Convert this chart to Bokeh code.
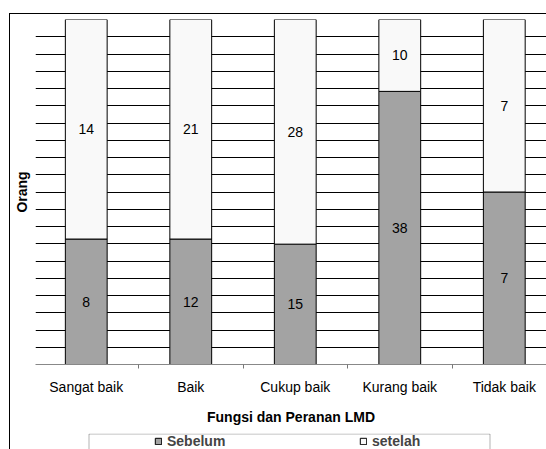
from bokeh.plotting import figure
from bokeh.layouts import column
from bokeh.models import (ColumnDataSource, FixedTicker, Range1d, Legend, LegendItem,
                          LabelSet, BoxAnnotation)
from bokeh.core.properties import value
from bokeh.embed import file_html
from bokeh.resources import INLINE

# Survey results: perception of LMD's function and role, before and after
categories = ["Sangat baik", "Baik", "Cukup baik", "Kurang baik", "Tidak baik"]
sebelum = [8, 12, 15, 38, 7]
setelah = [14, 21, 28, 10, 7]
series_names = ["Sebelum", "setelah"]

FONT = "Liberation Sans"
GRAY = "#A3A3A3"
WHITE = "#F9F9F9"

xs = [i + 0.5 for i in range(len(categories))]
totals = [a + b for a, b in zip(sebelum, setelah)]
frac_seb = [a / t for a, t in zip(sebelum, totals)]

src = ColumnDataSource(dict(
    x=xs,
    cat=categories,
    seb_top=frac_seb,
    set_top=[1.0] * len(xs),
    seb_mid=[f / 2 for f in frac_seb],
    set_mid=[(f + 1) / 2 for f in frac_seb],
    seb_lbl=[str(v) for v in sebelum],
    set_lbl=[str(v) for v in setelah],
))

# ---- main chart: 100% stacked columns ----
p = figure(width=536, height=419, output_backend="svg", toolbar_location=None,
           x_range=Range1d(0.0144, 4.904), y_range=Range1d(0, 1),
           min_border_left=25, min_border_right=0, min_border_top=5,
           min_border_bottom=69)
p.outline_line_color = None
p.background_fill_color = "white"
p.border_fill_color = "white"

bar_style = dict(width=0.40, line_color="black", line_width=1)
r_seb = p.vbar(x="x", bottom=0, top="seb_top", source=src, fill_color=GRAY, **bar_style)
r_set = p.vbar(x="x", bottom="seb_top", top="set_top", source=src, fill_color=WHITE,
               **bar_style)

for col, ycol in (("seb_lbl", "seb_mid"), ("set_lbl", "set_mid")):
    p.add_layout(LabelSet(x="x", y=ycol, text=col, source=src,
                          text_align="center", text_baseline="middle",
                          text_font=value(FONT), text_font_size=value("14px"),
                          text_color="black"))

# y axis: title only; the 5% grid has its own ticker
p.yaxis.ticker = FixedTicker(ticks=[])
p.ygrid.ticker = FixedTicker(ticks=[round(0.05 * i, 2) for i in range(1, 20)])
p.yaxis.axis_line_color = None
p.yaxis.major_tick_line_color = None
p.yaxis.minor_tick_line_color = None
p.yaxis.axis_label = "Orang"
p.yaxis.axis_label_text_font = FONT
p.yaxis.axis_label_text_font_size = "14px"
p.yaxis.axis_label_text_font_style = "bold"
p.yaxis.axis_label_text_color = "black"
p.yaxis.axis_label_standoff = 6
p.ygrid.grid_line_color = "black"
p.ygrid.grid_line_width = 1
p.xgrid.grid_line_color = None

# x axis: labels at category centres, ticks at category boundaries
p.xaxis.ticker = FixedTicker(ticks=xs, minor_ticks=list(range(len(categories) + 1)))
p.xaxis.major_label_overrides = {x: c for x, c in zip(xs, categories)}
p.xaxis.major_tick_in = 0
p.xaxis.major_tick_out = 0
p.xaxis.minor_tick_in = 0
p.xaxis.minor_tick_out = 4
p.xaxis.minor_tick_line_color = "#777777"
p.xaxis.axis_line_color = "#888888"
p.xaxis.major_label_text_font = FONT
p.xaxis.major_label_text_font_size = "14px"
p.xaxis.major_label_text_color = "black"
p.xaxis.major_label_standoff = 10
p.xaxis.axis_label = "Fungsi dan Peranan LMD"
p.xaxis.axis_label_text_font = FONT
p.xaxis.axis_label_text_font_size = "14px"
p.xaxis.axis_label_text_font_style = "bold"
p.xaxis.axis_label_text_color = "black"
p.xaxis.axis_label_standoff = 11

# ---- legend strip below the chart (frame aligned with the chart frame) ----
lg = figure(width=536, height=16, output_backend="svg", toolbar_location=None,
            x_range=Range1d(0, 511), y_range=Range1d(10, 26),
            x_axis_location=None, y_axis_location=None,
            min_border_left=25, min_border_right=0, min_border_top=0,
            min_border_bottom=0)
lg.outline_line_color = None
lg.grid.grid_line_color = None
lg.background_fill_color = "white"
lg.border_fill_color = "white"

# legend swatches: same series, drawn below this strip's visible y window
k_seb = lg.vbar(x="x", bottom=0, top="seb_top", source=src, fill_color=GRAY, **bar_style)
k_set = lg.vbar(x="x", bottom="seb_top", top="set_top", source=src, fill_color=WHITE,
                **bar_style)

lg.add_layout(BoxAnnotation(left=53.5, right=454.5, top=25.5, bottom=0,
                            fill_color=None, line_color="black", line_width=1))

legend = Legend(items=[LegendItem(label=series_names[0], renderers=[k_seb]),
                       LegendItem(label=series_names[1], renderers=[k_set])],
                orientation="horizontal", location=(119, 0),
                padding=0, margin=0, spacing=130,
                glyph_width=8, glyph_height=8, label_standoff=5,
                label_width=62, label_height=16,
                label_text_font=FONT, label_text_font_size="14px",
                label_text_font_style="bold",
                border_line_color=None, background_fill_alpha=0)
lg.add_layout(legend, "center")

page = column(p, lg, spacing=0)
page.margin = (13, 0, 0, 9)
page.styles = {"border-top": "1px solid black", "border-left": "1px solid black"}

open("out.html", "w").write(file_html(page, INLINE))
